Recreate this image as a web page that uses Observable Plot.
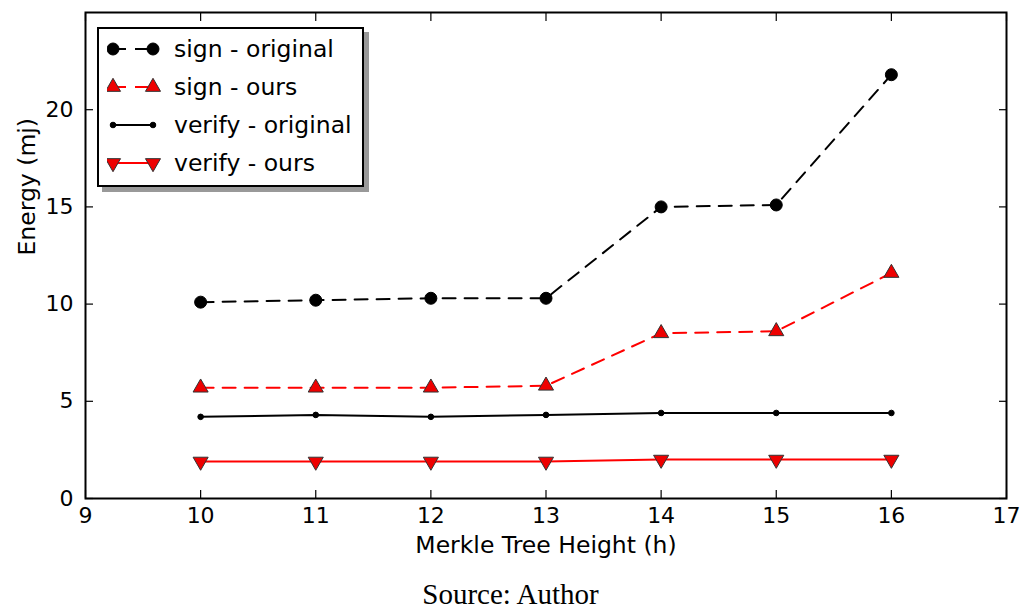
<!DOCTYPE html>
<html>
<head>
<meta charset="utf-8">
<script src="https://cdn.jsdelivr.net/npm/d3@7"></script>
<script src="https://cdn.jsdelivr.net/npm/@observablehq/plot@0.6"></script>
<style>
  html, body { margin: 0; padding: 0; background: #fff; }
  #wrap { position: relative; width: 1021px; }
  #caption { text-align: center; font-family: "Liberation Serif", serif; font-size: 29px; line-height: 32px; margin-top: 8px; color: #000; }
  #legend { position: absolute; left: 97px; top: 27px; width: 263px; height: 156px; border: 2px solid #000; background: #fff; box-shadow: 5px 5px 0 #999; font-family: "DejaVu Sans", sans-serif; font-size: 23.5px; }
  .row { position: absolute; left: 0; height: 38px; display: flex; align-items: center; }
  .row svg { margin-left: 8px; }
  .row span { margin-left: 13px; }
</style>
</head>
<body>
<div id="wrap"><div id="chart"></div><div id="legend"></div></div>
<div id="caption">Source: Author</div>
<script>
const heights = [10, 11, 12, 13, 14, 15, 16];
const signOriginal = [10.1, 10.2, 10.3, 10.3, 15.0, 15.1, 21.8];
const signOurs = [5.7, 5.7, 5.7, 5.8, 8.5, 8.6, 11.6];
const verifyOriginal = [4.2, 4.3, 4.2, 4.3, 4.4, 4.4, 4.4];
const verifyOurs = [1.9, 1.9, 1.9, 1.9, 2.0, 2.0, 2.0];
const seriesNames = ["sign - original", "sign - ours", "verify - original", "verify - ours"];
const xTicks = [9, 10, 11, 12, 13, 14, 15, 16, 17];
const yTicks = [0, 5, 10, 15, 20];
const xLabel = "Merkle Tree Height (h)";
const yLabel = "Energy (mj)";

const seriesValues = [signOriginal, signOurs, verifyOriginal, verifyOurs];
const styles = [
  {stroke: "#000", dash: "13,9", symbol: "circle", r: 6, fill: "#000", mstroke: "#000", rotate: 0},
  {stroke: "#ff0000", dash: "13,9", symbol: "triangle", r: 5.6, fill: "#ee0000", mstroke: "#333", rotate: 0},
  {stroke: "#000", dash: null, symbol: "circle", r: 2.8, fill: "#000", mstroke: "#000", rotate: 0},
  {stroke: "#ff0000", dash: null, symbol: "triangle", r: 5.6, fill: "#ee0000", mstroke: "#333", rotate: 180}
];

const data = seriesNames.map((name, i) => heights.map((h, j) => ({series: name, x: h, y: seriesValues[i][j]})));

const font = '"DejaVu Sans", sans-serif';
const marks = [];
data.forEach((d, i) => {
  const s = styles[i];
  marks.push(Plot.line(d, {x: "x", y: "y", stroke: s.stroke, strokeWidth: 2, strokeDasharray: s.dash}));
});
data.forEach((d, i) => {
  const s = styles[i];
  marks.push(Plot.dot(d, {x: "x", y: "y", symbol: s.symbol, r: s.r, fill: s.fill, stroke: s.mstroke, strokeWidth: 1, rotate: s.rotate}));
});

const chart = Plot.plot({
  width: 1021,
  height: 570,
  marginLeft: 85,
  marginRight: 15,
  marginTop: 12,
  marginBottom: 72,
  style: {fontFamily: font, fontSize: "22px", color: "#000", background: "#fff"},
  x: {domain: [9, 17]},
  y: {domain: [0, 25]},
  marks: [
    ...marks,
    Plot.frame({stroke: "#000", strokeWidth: 2}),
    Plot.axisX(xTicks, {anchor: "bottom", tickSize: 0, tickPadding: 9, tickFormat: d => String(d), label: null, fontSize: 22}),
    Plot.axisX(xTicks, {anchor: "bottom", tickSize: 8, dy: -8, text: null, label: null, strokeWidth: 1.2}),
    Plot.axisX(xTicks, {anchor: "top", tickSize: 8, dy: 8, text: null, label: null, strokeWidth: 1.2}),
    Plot.axisY(yTicks, {anchor: "left", tickSize: 0, tickPadding: 12, tickFormat: d => String(d), label: null, fontSize: 22}),
    Plot.axisY(yTicks, {anchor: "left", tickSize: 8, dx: 8, text: null, label: null, strokeWidth: 1.2}),
    Plot.axisY(yTicks, {anchor: "right", tickSize: 8, dx: -8, text: null, label: null, strokeWidth: 1.2}),
    Plot.text([xLabel], {frameAnchor: "bottom", dy: 54, text: d => d, fontSize: 23.5, fill: "#000"}),
    Plot.text([yLabel], {frameAnchor: "left", dx: -58, rotate: -90, text: d => d, fontSize: 23.5, fill: "#000"})
  ]
});
document.getElementById("chart").appendChild(chart);

// legend
const legend = document.getElementById("legend");
const symGen = {circle: d3.symbolCircle, triangle: d3.symbolTriangle};
seriesNames.forEach((name, i) => {
  const s = styles[i];
  const row = document.createElement("div");
  row.className = "row";
  row.style.top = (1 + i * 38) + "px";
  const svg = d3.create("svg").attr("width", 54).attr("height", 30);
  svg.append("line").attr("x1", 6).attr("x2", 46).attr("y1", 15).attr("y2", 15)
    .attr("stroke", s.stroke).attr("stroke-width", 2).attr("stroke-dasharray", s.dash ? "13,9" : null);
  const path = d3.symbol(symGen[s.symbol], Math.PI * s.r * s.r)();
  [6, 46].forEach(cx => {
    svg.append("path").attr("d", path).attr("transform", `translate(${cx},15) rotate(${s.rotate})`)
      .attr("fill", s.fill).attr("stroke", s.mstroke).attr("stroke-width", 1);
  });
  row.appendChild(svg.node());
  const span = document.createElement("span");
  span.textContent = name;
  row.appendChild(span);
  legend.appendChild(row);
});
</script>
</body>
</html>
